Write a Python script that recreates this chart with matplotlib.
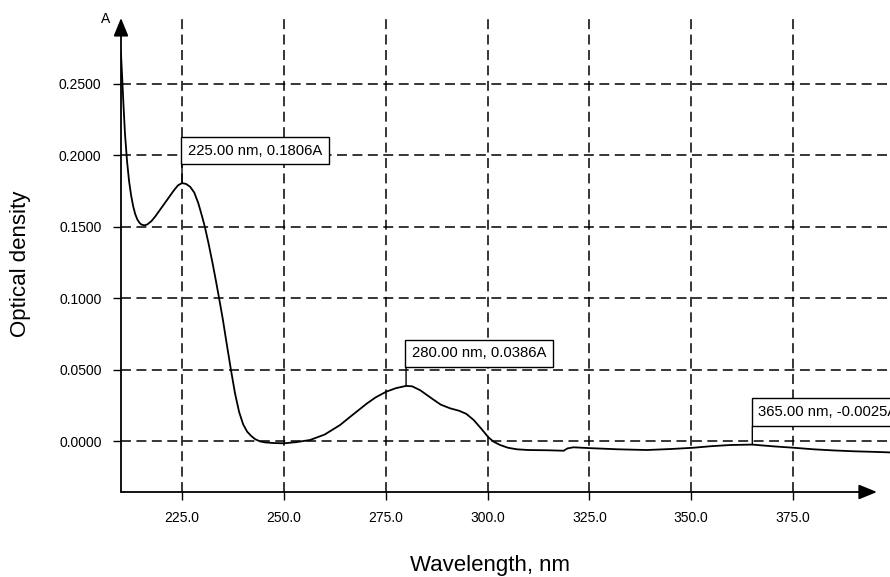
import matplotlib.pyplot as plt

plt.rcParams['font.family'] = ['Liberation Sans', 'DejaVu Sans']

# absorption spectrum
wavelength = [210.0, 210.3, 210.6, 211.0, 211.5, 212.0, 212.5, 213.0, 213.5, 214.0,
              214.5, 215.0, 215.8, 216.5, 217.5, 218.5, 220.0, 221.5, 223.0, 224.0,
              225.0, 226.0, 227.0, 228.0, 229.0, 230.0, 230.6, 231.5, 232.5, 233.3,
              234.1, 235.0, 236.0, 237.0, 238.0, 239.0, 240.0, 241.0, 242.0, 243.0,
              244.2, 245.5, 247.5, 250.0, 253.0, 256.4, 260.0, 263.8, 266.3, 268.5,
              270.4, 272.5, 275.1, 277.5, 280.0, 281.5, 283.5, 286.7, 288.5, 290.8,
              293.0, 294.8, 296.6, 298.5, 300.2, 301.5, 303.1, 305.0, 307.2, 310.0,
              315.0, 318.7, 319.6, 321.1, 325.2, 332.0, 339.1, 345.0, 350.6, 355.0,
              359.6, 365.0, 370.0, 375.1, 380.0, 385.0, 390.0, 395.0, 399.0]
absorbance = [0.272, 0.255, 0.237, 0.215, 0.196, 0.182, 0.172, 0.1645, 0.1590, 0.1553,
              0.1530, 0.1516, 0.1510, 0.1517, 0.1540, 0.1575, 0.1635, 0.1695, 0.1755, 0.1790,
              0.1806, 0.1800, 0.1780, 0.1740, 0.1665, 0.1565, 0.1500, 0.1385, 0.1245, 0.1125,
              0.1000, 0.0855, 0.0675, 0.0500, 0.0335, 0.0205, 0.0117, 0.0065, 0.0035, 0.0012,
              -0.0003, -0.0010, -0.0014, -0.0016, -0.0008, 0.0007, 0.0045, 0.0112, 0.0170, 0.0220,
              0.0263, 0.0305, 0.0345, 0.0370, 0.0386, 0.0383, 0.0355, 0.0290, 0.0255, 0.0229,
              0.0212, 0.0190, 0.0147, 0.0085, 0.0026, -0.0005, -0.0028, -0.0047, -0.0058, -0.0063,
              -0.0065, -0.0068, -0.0052, -0.0044, -0.0050, -0.0058, -0.0063, -0.0056, -0.0047, -0.0036,
              -0.0028, -0.0025, -0.0037, -0.0047, -0.0058, -0.0066, -0.0072, -0.0076, -0.0080]

# marked peaks
peak_nm = [225.00, 280.00, 365.00]
peak_abs = [0.1806, 0.0386, -0.0025]

xticks = [225, 250, 275, 300, 325, 350, 375]
yticks = [0.0, 0.05, 0.10, 0.15, 0.20, 0.25]

fig = plt.figure(figsize=(8.9, 5.77), dpi=100)
W, H = 890, 577
ax = fig.add_axes([121 / W, 1 - 492 / H, 1 - 121 / W, (492 - 18) / H])

ax.set_xlim(210.02, 398.8)
ax.set_ylim(-0.0357, 0.2962)

ax.set_xticks(xticks)
ax.set_xticklabels([f'{v:.1f}' for v in xticks])
ax.set_yticks(yticks)
ax.set_yticklabels([f'{v:.4f}' for v in yticks])
ax.tick_params(direction='out', length=6, width=1, labelsize=10, pad=8, color='black')

for s in ax.spines.values():
    s.set_visible(False)

ax.grid(True, color='black', linewidth=1.1, linestyle=(0, (6.5, 3.6)))
ax.set_axisbelow(True)

ax.plot(wavelength, absorbance, color='black', linewidth=1.3, zorder=3)

# axes drawn as arrows
arrow = dict(arrowstyle='-|>,head_length=1.1,head_width=0.45', color='black',
             lw=1.3, shrinkA=0, shrinkB=0)
ax.annotate('', xy=(0.983, 0), xytext=(0, 0), xycoords='axes fraction',
            textcoords='axes fraction', arrowprops=arrow, annotation_clip=False)
ax.annotate('', xy=(0, 1.0), xytext=(0, 0), xycoords='axes fraction',
            textcoords='axes fraction', arrowprops=arrow, annotation_clip=False)

# peak labels with leader lines
for x, y in zip(peak_nm, peak_abs):
    ax.annotate('', xy=(x, y), xytext=(0, 18), textcoords='offset pixels',
                arrowprops=dict(arrowstyle='-', lw=1, color='black',
                                shrinkA=0, shrinkB=0), zorder=4)
    ax.annotate(f'{x:.2f} nm, {y:.4f}A', xy=(x, y), xytext=(6, 18 + 14.5),
                textcoords='offset pixels', ha='left', va='center', fontsize=10.7,
                bbox=dict(boxstyle='square,pad=0.45', fc='white', ec='black', lw=1),
                annotation_clip=False, zorder=5)

fig.text(106 / W, 1 - 19 / H, 'A', ha='center', va='center', fontsize=10)
fig.text(21 / W, 1 - 264 / H, 'Optical density', rotation=90, ha='center',
         va='center', fontsize=16)
fig.text(490 / W, 1 - 565 / H, 'Wavelength, nm', ha='center', va='center',
         fontsize=16)

fig.savefig('out.png', dpi=100)
